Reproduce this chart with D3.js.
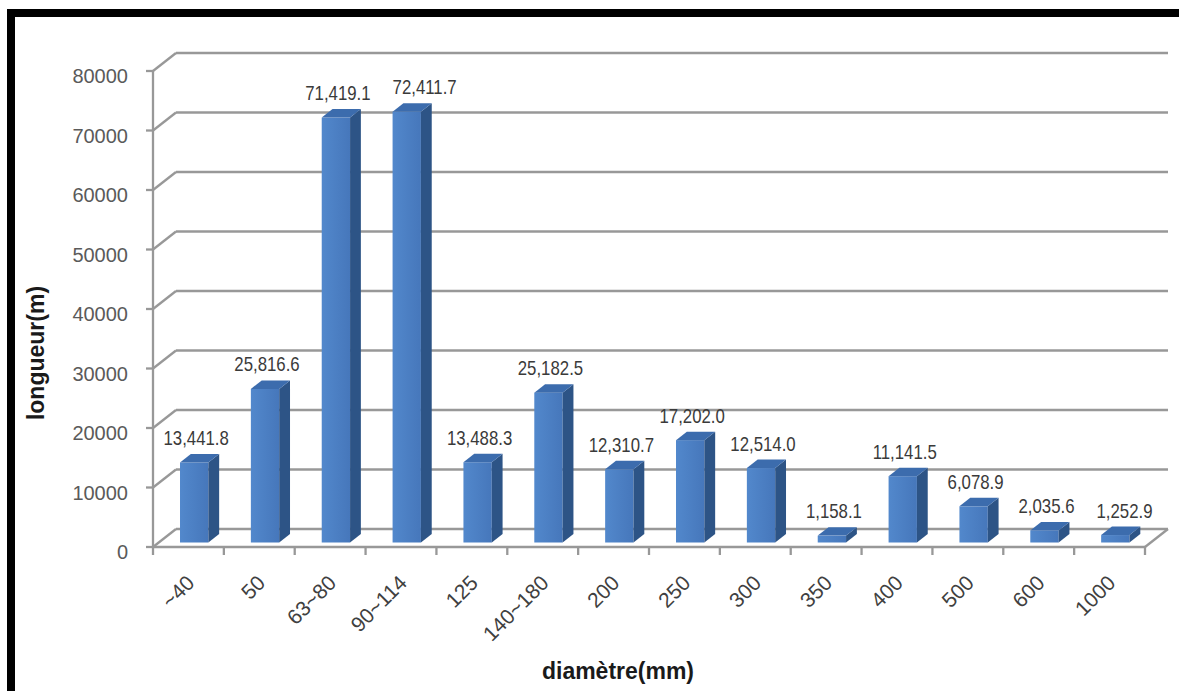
<!DOCTYPE html>
<html>
<head>
<meta charset="utf-8">
<script src="https://cdn.jsdelivr.net/npm/d3@7"></script>
<style>
  html, body { margin: 0; padding: 0; background: #fff; }
  svg { display: block; }
  text { font-family: "Liberation Sans", Arial, sans-serif; }
</style>
</head>
<body>
<svg id="chart" width="1179" height="691"></svg>
<script>
// Pipe length by diameter class
const categories = ["~40", "50", "63~80", "90~114", "125", "140~180", "200", "250", "300", "350", "400", "500", "600", "1000"];
const lengths = [13441.8, 25816.6, 71419.1, 72411.7, 13488.3, 25182.5, 12310.7, 17202.0, 12514.0, 1158.1, 11141.5, 6078.9, 2035.6, 1252.9];
const yTicks = [0, 10000, 20000, 30000, 40000, 50000, 60000, 70000, 80000];
const yTitle = "longueur(m)";
const xTitle = "diamètre(mm)";

const svg = d3.select("#chart");

// outer frame
svg.append("rect").attr("x", 7).attr("y", 9).attr("width", 1172).attr("height", 8).attr("fill", "#000");
svg.append("rect").attr("x", 7).attr("y", 9).attr("width", 8).attr("height", 682).attr("fill", "#000");

// front plane scales + depth offset of the 3D box
const x = d3.scaleBand().domain(categories).range([153, 1145]).padding(0);
const y = d3.scaleLinear().domain([0, 80000]).range([547, 71]);
const DX = 23, DY = -18;
const bw = x.bandwidth();
const x0 = x.range()[0], x1 = x.range()[1];
const gridColor = "#989898";

const defs = svg.append("defs");
const grad = defs.append("linearGradient").attr("id", "frontGrad").attr("x1", 0).attr("x2", 1).attr("y1", 0).attr("y2", 0);
grad.append("stop").attr("offset", "0%").attr("stop-color", "#5288cc");
grad.append("stop").attr("offset", "100%").attr("stop-color", "#4677bb");

const grid = svg.append("g").attr("stroke", gridColor).attr("stroke-width", 2.3).attr("fill", "none");
// back wall gridlines and left wall diagonals
yTicks.forEach(t => {
  grid.append("line").attr("x1", x0 + DX).attr("x2", x1 + DX).attr("y1", y(t) + DY).attr("y2", y(t) + DY);
  grid.append("line").attr("x1", x0).attr("x2", x0 + DX).attr("y1", y(t)).attr("y2", y(t) + DY);
});
// floor front edge + right diagonal
grid.append("line").attr("x1", x0).attr("x2", x1).attr("y1", y(0)).attr("y2", y(0));
grid.append("line").attr("x1", x1).attr("x2", x1 + DX).attr("y1", y(0)).attr("y2", y(0) + DY);
// value axis line + ticks
grid.append("line").attr("x1", x0).attr("x2", x0).attr("y1", y(0)).attr("y2", y(80000));
yTicks.forEach(t => {
  grid.append("line").attr("x1", x0 - 7).attr("x2", x0).attr("y1", y(t)).attr("y2", y(t));
});
// category ticks
const bounds = categories.map(c => x(c)).concat([x1]);
bounds.forEach(b => {
  grid.append("line").attr("x1", b).attr("x2", b).attr("y1", y(0)).attr("y2", y(0) + 8);
});

// y tick labels
svg.append("g").selectAll("text").data(yTicks).join("text")
  .attr("x", 128).attr("y", d => y(d) + 5)
  .attr("text-anchor", "end").attr("dominant-baseline", "central")
  .attr("font-size", 20).attr("fill", "#5a5a5a")
  .text(d => d);

// 3D columns
const f1 = 0.25, f2 = 0.72;
const dd = (f2 - f1) * DX, ddy = (f2 - f1) * DY;
const bars = categories.map((c, i) => {
  const bx = x(c) + bw * 0.3 + f1 * DX;
  const w = bw * 0.4;
  const yTop = y(lengths[i]) + f1 * DY;
  const yBot = y(0) + f1 * DY;
  return { c, v: lengths[i], bx, w, yTop, yBot };
});
const barG = svg.append("g");
bars.forEach(b => {
  const g = barG.append("g");
  g.append("rect").attr("x", b.bx).attr("y", b.yTop).attr("width", b.w).attr("height", b.yBot - b.yTop)
    .attr("fill", "url(#frontGrad)");
  g.append("polygon").attr("points", [
    [b.bx + b.w, b.yTop], [b.bx + b.w + dd, b.yTop + ddy], [b.bx + b.w + dd, b.yBot + ddy], [b.bx + b.w, b.yBot]
  ].map(p => p.join(",")).join(" ")).attr("fill", "#2d5486");
  g.append("polygon").attr("points", [
    [b.bx, b.yTop], [b.bx + b.w, b.yTop], [b.bx + b.w + dd, b.yTop + ddy], [b.bx + dd, b.yTop + ddy]
  ].map(p => p.join(",")).join(" ")).attr("fill", "#3c6cad");
});

// value labels (tall, condensed), nudged right when they would collide with the previous one
const fmt = d3.format(",.1f");
const squeeze = 0.84;
const labelG = svg.append("g");
const labels = bars.map(b => {
  const cx = b.bx + b.w / 2 + 2, cy = b.yTop + ddy - 9;
  const g = labelG.append("g").attr("transform", `translate(${cx},${cy}) scale(${squeeze},1)`);
  g.append("text").attr("text-anchor", "middle").attr("font-size", 20).attr("fill", "#3a3a3a").text(fmt(b.v));
  return { g, cx, cy };
});
function box(l) {
  const bb = l.g.select("text").node().getBBox();
  return { x: l.cx + bb.x * squeeze, w: bb.width * squeeze, y: l.cy + bb.y, h: bb.height };
}
for (let i = 1; i < labels.length; i++) {
  const a = box(labels[i - 1]), b = box(labels[i]);
  const vOverlap = a.y < b.y + b.h && b.y < a.y + a.h;
  const gap = 22;
  if (vOverlap && b.x < a.x + a.w + gap) {
    labels[i].cx += a.x + a.w + gap - b.x;
    labels[i].g.attr("transform", `translate(${labels[i].cx},${labels[i].cy}) scale(${squeeze},1)`);
  }
}

// category labels
svg.append("g").selectAll("text").data(categories).join("text")
  .attr("transform", d => `translate(${x(d) + bw / 2 + 2},${y(0) + 32}) rotate(-45)`)
  .attr("text-anchor", "end").attr("dominant-baseline", "central")
  .attr("font-size", 21).attr("fill", "#404040")
  .text(d => d);

// axis titles
svg.append("text")
  .attr("transform", "translate(36,353) rotate(-90)")
  .attr("text-anchor", "middle").attr("dominant-baseline", "central")
  .attr("font-size", 23).attr("font-weight", "bold").attr("fill", "#1a1a1a")
  .text(yTitle);
svg.append("text")
  .attr("x", 618).attr("y", 679)
  .attr("text-anchor", "middle")
  .attr("font-size", 23).attr("font-weight", "bold").attr("fill", "#1a1a1a")
  .text(xTitle);
</script>
</body>
</html>
